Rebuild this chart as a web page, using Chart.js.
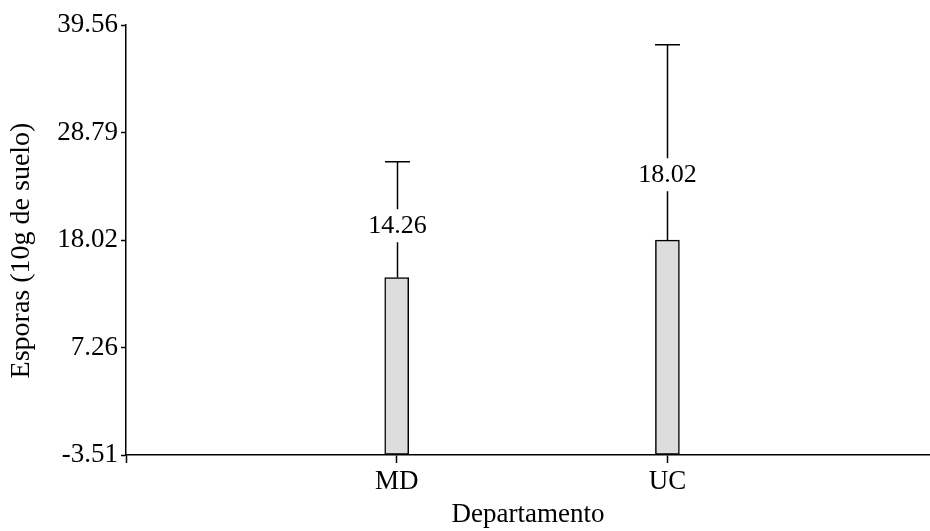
<!DOCTYPE html>
<html>
<head>
<meta charset="utf-8">
<script src="https://cdn.jsdelivr.net/npm/chart.js@4.4.0/dist/chart.umd.min.js"></script>
<style>
html,body{margin:0;padding:0;background:#fff;overflow:hidden}
#wrap{width:930px;height:531px;position:relative}
</style>
</head>
<body>
<div id="wrap"><canvas id="c" width="930" height="531"></canvas></div>
<script>
const categories = ['MD', 'UC'];
const means = [14.26, 18.02];
const errors = [11.61, 19.55];
const yTicks = [-3.51, 7.26, 18.02, 28.79, 39.56];
const yTitle = 'Esporas (10g de suelo)';
const xTitle = 'Departamento';

const FONT = "'Liberation Serif', 'Times New Roman', serif";

const errorPlugin = {
  id: 'errorBars',
  afterDatasetsDraw(chart) {
    const ctx = chart.ctx;
    const xs = chart.scales.x, ys = chart.scales.y;
    ctx.save();
    ctx.strokeStyle = '#000';
    ctx.lineWidth = 1.5;
    ctx.font = '26px ' + FONT;
    ctx.fillStyle = '#000';
    ctx.textAlign = 'center';
    ctx.textBaseline = 'middle';
    means.forEach((m, i) => {
      const x = Math.round(xs.getPixelForValue(i + 1)) + 0.5;
      const yb = ys.getPixelForValue(m);
      const ye = ys.getPixelForValue(m + errors[i]);
      const yl = ys.getPixelForValue(m * 1.36);
      const g1 = yl - 17, g2 = yl + 16;
      ctx.beginPath();
      ctx.moveTo(x, yb); ctx.lineTo(x, g2);
      ctx.moveTo(x, g1); ctx.lineTo(x, ye);
      ctx.moveTo(x - 12.5, ye); ctx.lineTo(x + 12.5, ye);
      ctx.stroke();
      ctx.fillText(m.toFixed(2), x, yl);
    });
    ctx.restore();
  }
};

new Chart(document.getElementById('c'), {
  type: 'bar',
  data: {
    datasets: [{
      data: means.map((v, i) => ({ x: i + 1, y: v })),
      base: yTicks[0],
      backgroundColor: '#dddddd',
      borderColor: '#000',
      borderWidth: 1.5,
      borderSkipped: false,
      barThickness: 24
    }]
  },
  options: {
    responsive: false,
    animation: false,
    events: [],
    layout: { padding: { top: 25, right: 0, left: 0, bottom: 0 } },
    plugins: { legend: { display: false }, tooltip: { enabled: false } },
    scales: {
      x: {
        type: 'linear',
        offset: false,
        min: 0,
        max: 2.97,
        afterBuildTicks(s) { s.ticks = [0, 1, 2].map(v => ({ value: v })); },
        afterFit(s) { s.height = 76; },
        ticks: {
          autoSkip: false,
          maxRotation: 0,
          padding: 3,
          color: '#000',
          font: { family: FONT, size: 27 },
          callback: v => (v >= 1 && v <= categories.length) ? categories[v - 1] : ''
        },
        grid: { offset: false, drawOnChartArea: false, tickLength: 8, color: '#000', tickWidth: 1.5 },
        border: { color: '#000', width: 1.5 },
        title: { display: true, text: xTitle, color: '#000', font: { family: FONT, size: 27 }, padding: { top: 0, bottom: 0 } }
      },
      y: {
        min: yTicks[0],
        max: yTicks[yTicks.length - 1],
        afterBuildTicks(s) { s.ticks = yTicks.map(v => ({ value: v })); },
        afterFit(s) { s.width = 126; },
        ticks: {
          padding: 3,
          color: '#000',
          font: { family: FONT, size: 27 },
          callback: v => v.toFixed(2)
        },
        grid: { drawOnChartArea: false, tickLength: 5, color: '#000', tickWidth: 1.5 },
        border: { color: '#000', width: 1.5 },
        title: { display: true, text: yTitle + '\u00a0\u00a0\u00a0', color: '#000', font: { family: FONT, size: 28 }, padding: { top: 5, bottom: 0 } }
      }
    }
  },
  plugins: [errorPlugin]
});
</script>
</body>
</html>
